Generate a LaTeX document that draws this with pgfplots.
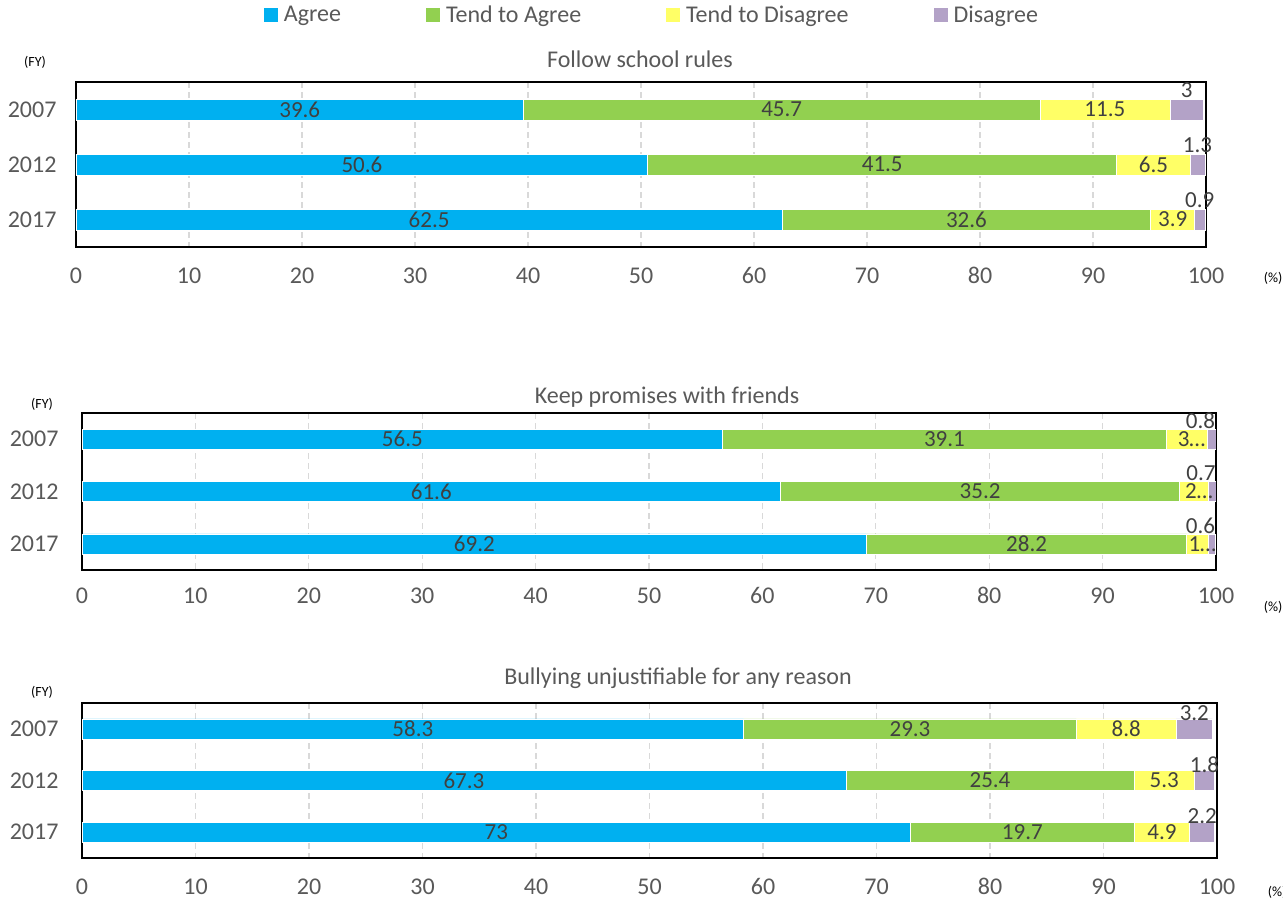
\documentclass[border=0pt]{standalone}
\usepackage{pgfplots}
\pgfplotsset{compat=1.18}
\usepackage{pgfplotstable}
\usepackage{fontspec}
\setmainfont{Carlito}
\newcommand\fs[1]{\fontsize{#1}{#1}\selectfont}

\definecolor{cA}{HTML}{00B0F0}
\definecolor{cB}{HTML}{92D050}
\definecolor{cC}{HTML}{FFFF66}
\definecolor{cD}{HTML}{B3A2C7}
\definecolor{txt}{HTML}{595959}
\definecolor{lbl}{HTML}{404040}
\definecolor{grd}{HTML}{D9D9D9}

% cat: 0 = 2007, 1 = 2012, 2 = 2017
\pgfplotstableread{
cat a    b    c    d   lc
0   39.6 45.7 11.5 3   11.5
1   50.6 41.5 6.5  1.3 6.5
2   62.5 32.6 3.9  0.9 3.9
}\rules
\pgfplotstableread{
cat a    b    c    d   lc
0   56.5 39.1 3.6  0.8 3…
1   61.6 35.2 2.5  0.7 2…
2   69.2 28.2 1.9  0.6 1…
}\promises
\pgfplotstableread{
cat a    b    c    d   lc
0   58.3 29.3 8.8  3.2 8.8
1   67.3 25.4 5.3  1.8 5.3
2   73   19.7 4.9  2.2 4.9
}\bullying

\pgfplotsset{
  base/.style={scale only axis, xmin=0, xmax=100, ymin=-0.5, ymax=2.5,
    y dir=reverse, anchor=south west},
  frame/.style={base, xbar stacked,
    xtick={0,10,...,100}, ytick={0,1,2}, yticklabels={2007,2012,2017},
    /pgf/number format/assume math mode=true,
    major tick length=0pt,
    xmajorgrids, grid style={grd, dash pattern=on 6pt off 4pt, line width=1.2pt},
    axis line style={black, line width=1.6pt},
    ticklabel style={font=\fs{24}, text=txt},
    yticklabel style={xshift=-20pt}},
  seg/.style={fill=#1, draw=white, line width=0.6pt},
  labels/.style={base, hide axis},
  lab/.style={draw=none, mark=none, nodes near coords,
    point meta=explicit symbolic, nodes near coords align=center,
    every node near coord/.append style={font=\fs{23}, text=lbl, inner sep=0pt}},
}

\begin{document}
\begin{tikzpicture}
\path[use as bounding box] (0pt,0pt) rectangle (1283pt,-904pt);

% ---------- panel 1
\begin{axis}[frame, at={(76pt,-247pt)}, width=1130pt, height=165pt, bar width=21pt,
  xticklabel style={yshift=-17pt}, yticklabel style={xshift=4pt},
  legend columns=4,
  legend image code/.code={\draw[#1, draw=none] (0pt,-7pt) rectangle (14pt,7pt);},
  legend style={at={(0.5088,1.406)}, anchor=center, draw=none, inner sep=0pt,
    font=\fs{24}, text=txt, nodes={inner sep=0pt},
    /tikz/every odd column/.append style={column sep=6pt},
    /tikz/every even column/.append style={column sep=85pt}}]
\addplot[seg=cA] table[x=a, y=cat] {\rules};
\addplot[seg=cB] table[x=b, y=cat] {\rules};
\addplot[seg=cC] table[x=c, y=cat] {\rules};
\addplot[seg=cD] table[x=d, y=cat] {\rules};
\legend{Agree, Tend to Agree, Tend to Disagree, Disagree}
\end{axis}
\begin{axis}[labels, at={(76pt,-247pt)}, width=1130pt, height=165pt]
\addplot[lab] table[x expr=\thisrow{a}/2, y=cat, meta=a] {\rules};
\addplot[lab] table[x expr=\thisrow{a}+\thisrow{b}/2, y=cat, meta=b] {\rules};
\addplot[lab] table[x expr=\thisrow{a}+\thisrow{b}+\thisrow{c}/2, y=cat, meta=lc] {\rules};
\addplot[lab, every node near coord/.append style={yshift=19pt}]
  table[x expr=\thisrow{a}+\thisrow{b}+\thisrow{c}+\thisrow{d}/2, y=cat, meta=d] {\rules};
\end{axis}

% ---------- panel 2
\begin{axis}[frame, at={(82pt,-570pt)}, width=1134pt, height=157pt, bar width=20pt,
  xticklabel style={yshift=-14pt}]
\addplot[seg=cA] table[x=a, y=cat] {\promises};
\addplot[seg=cB] table[x=b, y=cat] {\promises};
\addplot[seg=cC] table[x=c, y=cat] {\promises};
\addplot[seg=cD] table[x=d, y=cat] {\promises};
\end{axis}
\begin{axis}[labels, at={(82pt,-570pt)}, width=1134pt, height=157pt]
\addplot[lab] table[x expr=\thisrow{a}/2, y=cat, meta=a] {\promises};
\addplot[lab] table[x expr=\thisrow{a}+\thisrow{b}/2, y=cat, meta=b] {\promises};
\addplot[lab, every node near coord/.append style={xshift=5pt}]
  table[x expr=\thisrow{a}+\thisrow{b}+\thisrow{c}/2, y=cat, meta=lc] {\promises};
\addplot[lab, every node near coord/.append style={yshift=18pt, xshift=-11pt}]
  table[x expr=\thisrow{a}+\thisrow{b}+\thisrow{c}+\thisrow{d}/2, y=cat, meta=d] {\promises};
\end{axis}

% ---------- panel 3
\begin{axis}[frame, at={(82pt,-858pt)}, width=1135pt, height=155pt, bar width=20pt,
  xticklabel style={yshift=-17pt}]
\addplot[seg=cA] table[x=a, y=cat] {\bullying};
\addplot[seg=cB] table[x=b, y=cat] {\bullying};
\addplot[seg=cC] table[x=c, y=cat] {\bullying};
\addplot[seg=cD] table[x=d, y=cat] {\bullying};
\end{axis}
\begin{axis}[labels, at={(82pt,-858pt)}, width=1135pt, height=155pt]
\addplot[lab] table[x expr=\thisrow{a}/2, y=cat, meta=a] {\bullying};
\addplot[lab] table[x expr=\thisrow{a}+\thisrow{b}/2, y=cat, meta=b] {\bullying};
\addplot[lab] table[x expr=\thisrow{a}+\thisrow{b}+\thisrow{c}/2, y=cat, meta=lc] {\bullying};
\addplot[lab, every node near coord/.append style={yshift=16pt}]
  table[x expr=\thisrow{a}+\thisrow{b}+\thisrow{c}+\thisrow{d}/2, y=cat, meta=d] {\bullying};
\end{axis}

% titles and unit notes
\node[font=\fs{24}, text=txt, anchor=base] at (640pt,-68pt) {Follow school rules};
\node[font=\fs{24}, text=txt, anchor=base] at (667pt,-403pt) {Keep promises with friends};
\node[font=\fs{24}, text=txt, anchor=base] at (678pt,-684pt) {Bullying unjustifiable for any reason};
\node[font=\fs{14}] at (35pt,-62pt) {(FY)};
\node[font=\fs{14}] at (42pt,-404pt) {(FY)};
\node[font=\fs{14}] at (42pt,-692pt) {(FY)};
\node[font=\fs{14}] at (1273pt,-278pt) {(\%)};
\node[font=\fs{14}] at (1273pt,-607pt) {(\%)};
\node[font=\fs{14}] at (1277pt,-892pt) {(\%)};
\end{tikzpicture}
\end{document}
